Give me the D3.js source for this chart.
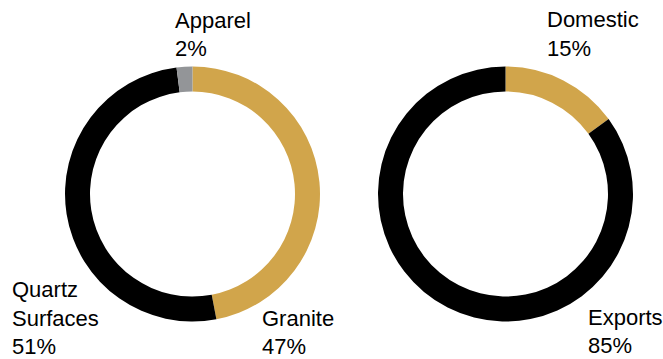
<!DOCTYPE html>
<html><head><meta charset="utf-8">
<script src="https://cdn.jsdelivr.net/npm/d3@7"></script>
<style>body{margin:0;background:#fff}svg{display:block}text{font-family:"Liberation Sans",Arial,sans-serif;font-size:22px;fill:#000}</style>
</head><body>
<svg id="c" width="663" height="359"></svg>
<script>
const leftCategories = ["Granite", "Quartz Surfaces", "Apparel"];
const leftValues = [47, 51, 2];
const leftColors = ["#D1A54B", "#000000", "#939598"];
const rightCategories = ["Domestic", "Exports"];
const rightValues = [15, 85];
const rightColors = ["#D1A54B", "#000000"];

const svg = d3.select("#c");
const pie = d3.pie().sort(null).value(d => d);
const arc = d3.arc().innerRadius(102.5).outerRadius(127.5);

function donut(cx, cy, values, colors) {
  const g = svg.append("g").attr("transform", `translate(${cx},${cy})`);
  g.selectAll("path").data(pie(values)).join("path")
    .attr("d", arc).attr("fill", (d, i) => colors[i]);
}
donut(192.5, 194, leftValues, leftColors);
donut(505.5, 194, rightValues, rightColors);

function label(x, y, lines, lh) {
  const t = svg.append("text").attr("x", x).attr("y", y);
  lines.forEach((l, i) => t.append("tspan").attr("x", x).attr("dy", i ? lh : 0).text(l));
}
label(175, 28, [leftCategories[2], leftValues[2] + "%"], 28);
label(12, 297, ["Quartz", "Surfaces", leftValues[1] + "%"], 28.5);
label(262, 326, [leftCategories[0], leftValues[0] + "%"], 28);
label(547, 27, [rightCategories[0], rightValues[0] + "%"], 29);
label(588, 325, [rightCategories[1], rightValues[1] + "%"], 28);
</script>
</body></html>
